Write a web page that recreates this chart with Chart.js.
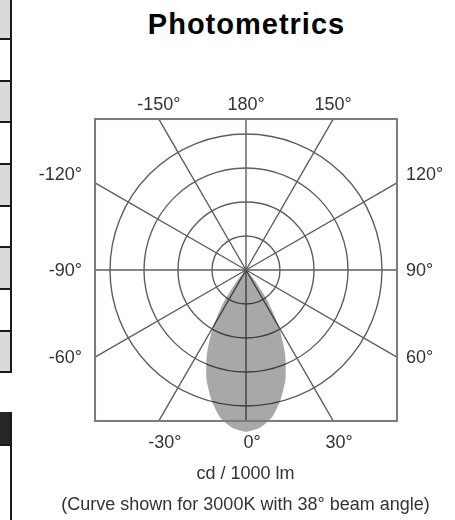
<!DOCTYPE html>
<html>
<head>
<meta charset="utf-8">
<script src="https://cdn.jsdelivr.net/npm/chart.js@4.4.1/dist/chart.umd.min.js"></script>
<style>
  body { margin: 0; background: #ffffff; font-family: "Liberation Sans", Arial, sans-serif; }
  #wrap { position: relative; width: 455px; height: 520px; overflow: hidden; }
  #polar { position: absolute; left: 0; top: 0; }
  .cell { position: absolute; left: 0; width: 10px; border-right: 2px solid #1a1a1a; border-bottom: 2px solid #1a1a1a; box-sizing: content-box; }
  .grey { background: #dadada; }
  .white { background: #ffffff; }
  .dark { background: #262626; }
  #title { position: absolute; left: 0; width: 493px; top: 8px; text-align: center;
           font-weight: bold; font-size: 29px; letter-spacing: 1px; color: #000; }
  .foot { position: absolute; left: 0; width: 491px; text-align: center; font-size: 18px; color: #333; }
</style>
</head>
<body>
<div id="wrap">
  <div class="cell grey"  style="top:0;height:38px"></div>
  <div class="cell white" style="top:40px;height:40px"></div>
  <div class="cell grey"  style="top:82px;height:39px"></div>
  <div class="cell white" style="top:123px;height:40px"></div>
  <div class="cell grey"  style="top:165px;height:40px"></div>
  <div class="cell white" style="top:207px;height:39px"></div>
  <div class="cell grey"  style="top:248px;height:40px"></div>
  <div class="cell white" style="top:290px;height:40px"></div>
  <div class="cell grey"  style="top:332px;height:39px"></div>
  <div class="cell dark"  style="top:412px;height:32px"></div>
  <div class="cell white" style="top:446px;height:80px;border-bottom:none"></div>
  <div id="title">Photometrics</div>
  <canvas id="polar" width="455" height="520"></canvas>
  <div class="foot" style="top:463px">cd / 1000 lm</div>
  <div class="foot" style="top:494px">(Curve shown for 3000K with 38° beam angle)</div>
</div>
<script>
// ========================================
// DATA
// ========================================
// beam profile (symmetric lobe, 0° = straight down)
const beamAngles    = [0, 5, 10, 15, 20, 25, 30, 35, 40, 45];
const beamIntensity = [2380, 2330, 2200, 1970, 1700, 1360, 970, 560, 200, 0];

// spoke labels round the frame
const gridAngles = [180, 150, 120, 90, 60, 30, 0, -30, -60, -90, -120, -150];
const gridLabels = ['180°', '150°', '120°', '90°', '60°', '30°', '0°', '-30°', '-60°', '-90°', '-120°', '-150°'];

// rings and frame (in cd / 1000 lm)
const ringStep = 500;
const ringMax = 2000;
const frameValue = 2220;
const scaleMax = 2500;

const STEP = 5; // degrees between radar categories

// ========================================
// BUILD RADAR CATEGORIES
// ========================================
const categories = [];
const lobe = [];
for (let i = 0; i < 360 / STEP; i++) {
    let a = -i * STEP;
    if (a <= -180) a += 360;
    categories.push(a);
    const k = beamAngles.indexOf(Math.abs(a));
    lobe.push(k >= 0 ? beamIntensity[k] : 0);
}

function indexForAngle(a) {
    return ((Math.round(-a / STEP) % categories.length) + categories.length) % categories.length;
}

// square frame round the rings, sized from the radial scale
function frameOf(r) {
    const h = r.getDistanceFromCenterForValue(frameValue);
    return { left: r.xCenter - h, right: r.xCenter + h, top: r.yCenter - h, bottom: r.yCenter + h };
}

// where a spoke meets the frame
function hitFrame(r, box, a) {
    const ang = r.getIndexAngle(indexForAngle(a)) - Math.PI / 2;
    const dx = Math.cos(ang), dy = Math.sin(ang);
    const tx = Math.abs(dx) > 1e-6 ? ((dx > 0 ? box.right : box.left) - r.xCenter) / dx : Infinity;
    const ty = Math.abs(dy) > 1e-6 ? ((dy > 0 ? box.bottom : box.top) - r.yCenter) / dy : Infinity;
    const t = Math.min(tx, ty);
    return {
        x: r.xCenter + dx * t,
        y: r.yCenter + dy * t,
        side: ty <= tx ? (dy < 0 ? 'top' : 'bottom') : (dx > 0 ? 'right' : 'left')
    };
}

// ========================================
// PLUGIN: frame, long spokes, labels
// ========================================
const frameLines = {
    id: 'frameLines',
    beforeDatasetsDraw(chart) {
        const ctx = chart.ctx;
        const r = chart.scales.r;
        const box = frameOf(r);
        ctx.save();
        ctx.strokeStyle = '#5e5e5e';
        ctx.lineWidth = 1.4;
        gridAngles.forEach(a => {
            const p = hitFrame(r, box, a);
            ctx.beginPath();
            ctx.moveTo(r.xCenter, r.yCenter);
            ctx.lineTo(p.x, p.y);
            ctx.stroke();
        });
        ctx.restore();
    },
    afterDraw(chart) {
        const ctx = chart.ctx;
        const r = chart.scales.r;
        const box = frameOf(r);
        ctx.save();
        ctx.strokeStyle = '#7a7a7a';
        ctx.lineWidth = 2;
        ctx.strokeRect(box.left, box.top, box.right - box.left, box.bottom - box.top);

        ctx.fillStyle = '#333333';
        ctx.font = '18px "Liberation Sans", Arial, sans-serif';
        ctx.textBaseline = 'middle';
        gridAngles.forEach((a, i) => {
            const p = hitFrame(r, box, a);
            const lift = Math.abs(a) > 90 ? -8 : 1;
            if (p.side === 'top') {
                ctx.textAlign = 'center';
                ctx.fillText(gridLabels[i], p.x, box.top - 14);
            } else if (p.side === 'bottom') {
                ctx.textAlign = 'center';
                ctx.fillText(gridLabels[i], p.x + 6, box.bottom + 22);
            } else if (p.side === 'right') {
                ctx.textAlign = 'left';
                ctx.fillText(gridLabels[i], box.right + 9, p.y + lift);
            } else {
                ctx.textAlign = 'right';
                ctx.fillText(gridLabels[i], box.left - 13, p.y + lift);
            }
        });
        ctx.restore();
    }
};

// ========================================
// CHART
// ========================================
const polarChart = new Chart(document.getElementById('polar'), {
    type: 'radar',
    data: {
        labels: categories,
        datasets: [{
            label: 'cd / 1000 lm',
            data: lobe,
            fill: true,
            tension: 0.2,
            backgroundColor: 'rgba(0, 0, 0, 0.34)',
            borderWidth: 0,
            pointRadius: 0
        }]
    },
    options: {
        responsive: false,
        animation: false,
        layout: { padding: { left: 76, right: 39, top: 100, bottom: 80 } },
        plugins: {
            legend: { display: false },
            tooltip: { enabled: false }
        },
        scales: {
            r: {
                min: 0,
                max: scaleMax,
                startAngle: 180,
                ticks: { display: false, stepSize: ringStep },
                grid: {
                    circular: true,
                    lineWidth: 1.4,
                    color: c => (c.tick && c.tick.value > 0 && c.tick.value <= ringMax) ? '#5e5e5e' : 'rgba(0,0,0,0)'
                },
                angleLines: { display: false },
                pointLabels: { display: false }
            }
        }
    },
    plugins: [frameLines]
});
console.log('polar chart ready', polarChart.scales.r.drawingArea);
</script>
</body>
</html>
